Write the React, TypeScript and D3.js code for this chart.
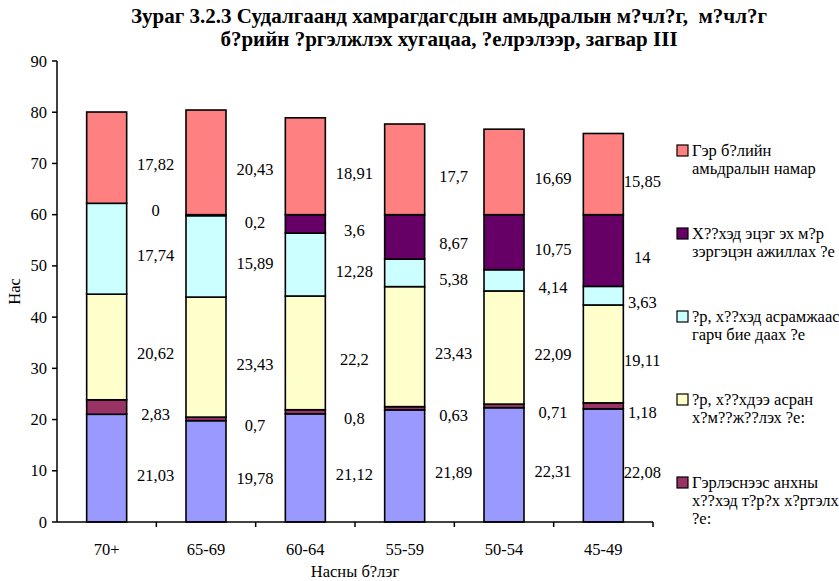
import React from "react";
import * as d3 from "d3";

const categories = ["70+", "65-69", "60-64", "55-59", "50-54", "45-49"];
const s0 = [21.03, 19.78, 21.12, 21.89, 22.31, 22.08];
const s1 = [2.83, 0.7, 0.8, 0.63, 0.71, 1.18];
const s2 = [20.62, 23.43, 22.2, 23.43, 22.09, 19.11];
const s3 = [17.74, 15.89, 12.28, 5.38, 4.14, 3.63];
const s4 = [0, 0.2, 3.6, 8.67, 10.75, 14];
const s5 = [17.82, 20.43, 18.91, 17.7, 16.69, 15.85];
const series = [s0, s1, s2, s3, s4, s5];
const colors = ["#9999FF", "#993366", "#FFFFCC", "#CCFFFF", "#660066", "#FF8080"];
const yTicks = [0, 10, 20, 30, 40, 50, 60, 70, 80, 90];

const legendItems = [
  { lines: ["Гэр б?лийн", "амьдралын намар"], color: colors[5] },
  { lines: ["Х??хэд эцэг эх м?р", "зэргэцэн ажиллах ?е"], color: colors[4] },
  { lines: ["?р, х??хэд асрамжаас", "гарч бие даах ?е"], color: colors[3] },
  { lines: ["?р, х??хдээ асран", "х?м??ж??лэх ?е:"], color: colors[2] },
  { lines: ["Гэрлэснээс анхны", "х??хэд т?р?х х?ртэлх", "?е:"], color: colors[1] },
];

export default function App() {
  const W = 839, H = 581;
  const left = 57, right = 653, top = 61, bottom = 522;
  const x = d3.scaleBand().domain(categories).range([left, right]).paddingInner(0).paddingOuter(0);
  const y = d3.scaleLinear().domain([0, 90]).range([bottom, top]);
  const bw = 40;
  const font = "Times New Roman, Liberation Serif, serif";
  const fs = 16.5;

  const data = categories.map((c, i) => {
    const row: any = { cat: c };
    series.forEach((s, k) => (row["k" + k] = s[i]));
    return row;
  });
  const stack = d3.stack().keys(series.map((_, k) => "k" + k))(data as any);

  return (
    <svg width={W} height={H} style={{ position: "absolute", left: 0, top: 0, background: "#fff", fontFamily: font }}>
      <rect x={0} y={0} width={W} height={H} fill="#fff" />
      <text x={449} y={23} textAnchor="middle" fontWeight="bold" fontSize={21}>
        Зураг 3.2.3 Судалгаанд хамрагдагсдын амьдралын м?чл?г,{"\u00a0\u00a0"}м?чл?г
      </text>
      <text x={449} y={46} textAnchor="middle" fontWeight="bold" fontSize={21}>
        б?рийн ?ргэлжлэх хугацаа, ?елрэлээр, загвар III
      </text>

      {stack.map((layer, k) =>
        layer.map((d, i) => {
          const cx = (x(categories[i]) as number) + x.bandwidth() / 2;
          const y0 = y(d[0]);
          const y1 = y(d[1]);
          return (
            <rect
              key={k + "-" + i}
              x={cx - bw / 2}
              y={y1}
              width={bw}
              height={Math.max(0, y0 - y1)}
              fill={colors[k]}
              stroke="#000"
              strokeWidth={1.6}
            />
          );
        })
      )}

      {stack.map((layer, k) =>
        layer.map((d, i) => {
          const cx = (x(categories[i]) as number) + x.bandwidth() / 2;
          const lx = i === categories.length - 1 ? cx + 39 : cx + 49;
          const ym = y((d[0] + d[1]) / 2) + 7;
          return (
            <text key={"l" + k + "-" + i} x={lx} y={ym} textAnchor="middle" dominantBaseline="central" fontSize={fs}>
              {String(series[k][i]).replace(".", ",")}
            </text>
          );
        })
      )}

      <line x1={left} y1={top} x2={left} y2={bottom} stroke="#000" strokeWidth={1.5} />
      <line x1={left} y1={bottom} x2={right} y2={bottom} stroke="#000" strokeWidth={1.5} />
      {yTicks.map((t) => (
        <g key={"yt" + t}>
          <line x1={left - 5} x2={left} y1={y(t)} y2={y(t)} stroke="#000" strokeWidth={1.5} />
          <text x={left - 10} y={y(t)} textAnchor="end" dominantBaseline="central" fontSize={fs}>
            {t}
          </text>
        </g>
      ))}
      {categories.map((c) => {
        const bx = (x(c) as number) + x.bandwidth();
        return (
          <g key={"xt" + c}>
            <line x1={bx} x2={bx} y1={bottom} y2={bottom + 5} stroke="#000" strokeWidth={1.5} />
            <text x={(x(c) as number) + x.bandwidth() / 2} y={555} textAnchor="middle" fontSize={fs}>
              {c}
            </text>
          </g>
        );
      })}
      <text x={(left + right) / 2} y={577} textAnchor="middle" fontSize={fs}>
        Насны б?лэг
      </text>
      <text transform={`translate(20, ${(top + bottom) / 2}) rotate(-90)`} textAnchor="middle" fontSize={fs}>
        Нас
      </text>

      {legendItems.map((it, j) => {
        const ly = 156 + j * 83;
        return (
          <g key={"lg" + j}>
            <rect x={677} y={ly - 11} width={11} height={11} fill={it.color} stroke="#000" strokeWidth={1.2} />
            {it.lines.map((ln, m) => (
              <text key={m} x={692} y={ly + m * 18} fontSize={fs}>
                {ln}
              </text>
            ))}
          </g>
        );
      })}
    </svg>
  );
}
